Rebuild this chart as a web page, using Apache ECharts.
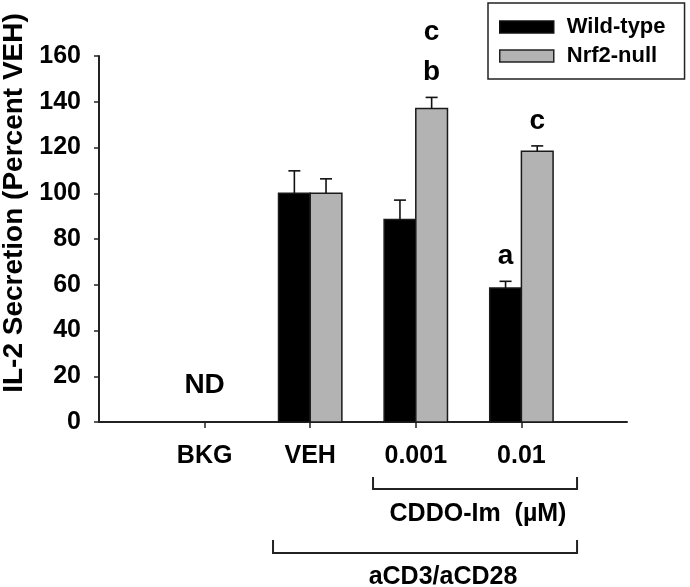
<!DOCTYPE html>
<html>
<head>
<meta charset="utf-8">
<script src="https://cdn.jsdelivr.net/npm/echarts@6/dist/echarts.min.js"></script>
<style>
html,body{margin:0;padding:0;background:#fff;}
#chart{width:690px;height:587px;}
</style>
</head>
<body>
<div id="chart"></div>
<script>
// ---- data ----
const categories = ['BKG', 'VEH', '0.001', '0.01'];
const seriesNames = ['Wild-type', 'Nrf2-null'];
const wildValues = [null, 100, 88.5, 58.6];
const wildErrors = [null, 9.8, 8.5, 2.9];
const nrfValues = [null, 100, 137.1, 118.4];
const nrfErrors = [null, 6.3, 4.8, 2.3];
const wildSig = ['', '', '', 'a'];
const nrfSig = ['', '', 'c\nb', 'c'];
const notDetected = ['ND', '', '', ''];
const yTicks = [0, 20, 40, 60, 80, 100, 120, 140, 160];

const FONT = '"Liberation Sans", Arial, sans-serif';
const colors = ['#000000', '#b3b3b3'];

function buildData(values, errors, sig) {
  return categories.map((c, i) => [i + 1, values[i] == null ? '-' : values[i], errors[i] == null ? 0 : errors[i], sig[i], notDetected[i]]);
}

function makeRender(seriesIdx) {
  return function (params, api) {
    const x = api.value(0);
    const v = api.value(1);
    const e = api.value(2);
    const idx = params.dataIndex;
    const band = api.size([1, 0])[0];
    const barW = band * 0.3;
    const center = api.coord([x, 0]);
    const children = [];
    if (isNaN(v)) {
      const nd = notDetected[idx];
      if (seriesIdx === 0 && nd) {
        children.push({
          type: 'text',
          style: { x: center[0], y: center[1] - 37, text: nd, font: 'bold 28px ' + FONT, fill: '#000', align: 'center', verticalAlign: 'middle' }
        });
      }
      return { type: 'group', children };
    }
    const left = seriesIdx === 0 ? center[0] - barW : center[0];
    const top = api.coord([x, v])[1];
    const errTop = api.coord([x, v + e])[1];
    const cx = left + barW / 2;
    children.push({
      type: 'rect',
      shape: { x: left, y: top, width: barW, height: center[1] - top },
      style: { fill: colors[seriesIdx], stroke: '#1a1a1a', lineWidth: 1.5 }
    });
    children.push({ type: 'line', shape: { x1: cx, y1: top, x2: cx, y2: errTop }, style: { stroke: '#111', lineWidth: 1.6 } });
    children.push({ type: 'line', shape: { x1: cx - 6, y1: errTop, x2: cx + 6, y2: errTop }, style: { stroke: '#111', lineWidth: 1.6 } });
    const sig = (seriesIdx === 0 ? wildSig : nrfSig)[idx];
    if (sig) {
      children.push({
        type: 'text',
        style: { x: cx, y: errTop - 5, text: sig, font: 'bold 28px ' + FONT, fill: '#000', align: 'center', verticalAlign: 'bottom', lineHeight: 40 }
      });
    }
    return { type: 'group', children };
  };
}

const chart = echarts.init(document.getElementById('chart'), null, { renderer: 'canvas' });

const option = {
  animation: false,
  backgroundColor: '#fff',
  grid: { left: 99, right: 63, top: 56, bottom: 165 },
  legend: {
    orient: 'vertical',
    left: 488,
    top: 3,
    padding: [13, 19, 12, 11],
    itemGap: 7,
    itemWidth: 54,
    itemHeight: 12,
    borderColor: '#222',
    borderWidth: 1.5,
    textStyle: { fontFamily: FONT, fontWeight: 'bold', fontSize: 22, color: '#000', padding: [0, 0, 0, 8] },
    data: [
      { name: seriesNames[0], icon: 'rect', itemStyle: { color: colors[0], borderColor: '#111', borderWidth: 1.5 } },
      { name: seriesNames[1], icon: 'rect', itemStyle: { color: colors[1], borderColor: '#222', borderWidth: 1.5 } }
    ]
  },
  xAxis: {
    type: 'value',
    min: 0,
    max: 5,
    interval: 1,
    splitLine: { show: false },
    axisLine: { show: true, lineStyle: { color: '#222', width: 2 } },
    axisTick: { show: true, length: 6, lineStyle: { color: '#222', width: 1.5 }, customValues: [1, 2, 3, 4] },
    axisLabel: {
      customValues: [1, 2, 3, 4],
      formatter: v => categories[v - 1] || '',
      fontFamily: FONT, fontWeight: 'bold', fontSize: 25, color: '#000', margin: 22
    }
  },
  yAxis: {
    type: 'value',
    min: 0,
    max: 160,
    interval: 20,
    splitLine: { show: false },
    axisLine: { show: true, lineStyle: { color: '#222', width: 2 } },
    axisTick: { show: true, length: 5, lineStyle: { color: '#222', width: 1.5 } },
    axisLabel: { fontFamily: FONT, fontWeight: 'bold', fontSize: 25, color: '#000', margin: 18 }
  },
  series: [
    {
      name: seriesNames[0], type: 'custom', itemStyle: { color: colors[0] },
      renderItem: makeRender(0), data: buildData(wildValues, wildErrors, wildSig),
      encode: { x: 0, y: [1, 2] }, clip: false
    },
    {
      name: seriesNames[1], type: 'custom', itemStyle: { color: colors[1] },
      renderItem: makeRender(1), data: buildData(nrfValues, nrfErrors, nrfSig),
      encode: { x: 0, y: [1, 2] }, clip: false
    }
  ]
};
chart.setOption(option);

// annotation brackets below the axis, positioned from axis units
const brackets = [
  { from: 2.595, to: 4.527, topY: 477, barY: 489, label: 'CDDO-Im  (µM)', labelX: 478, labelY: 514 },
  { from: 1.648, to: 4.527, topY: 540, barY: 553, label: 'aCD3/aCD28', labelX: 443, labelY: 577 }
];
const graphics = [];
brackets.forEach(b => {
  const x1 = chart.convertToPixel({ xAxisIndex: 0 }, b.from);
  const x2 = chart.convertToPixel({ xAxisIndex: 0 }, b.to);
  graphics.push({
    type: 'polyline',
    shape: { points: [[x1, b.topY], [x1, b.barY], [x2, b.barY], [x2, b.topY]] },
    style: { stroke: '#222', lineWidth: 2, fill: null }
  });
  graphics.push({
    type: 'text',
    style: { x: b.labelX, y: b.labelY, text: b.label, font: 'bold 25px ' + FONT, fill: '#000', align: 'center', verticalAlign: 'middle' }
  });
});
graphics.push({
  type: 'text',
  x: 14, y: 203, rotation: Math.PI / 2,
  style: { x: 0, y: 0, text: 'IL-2 Secretion (Percent VEH)', font: 'bold 28px ' + FONT, fill: '#000', align: 'center', verticalAlign: 'middle' }
});
chart.setOption({ graphic: graphics });
</script>
</body>
</html>
